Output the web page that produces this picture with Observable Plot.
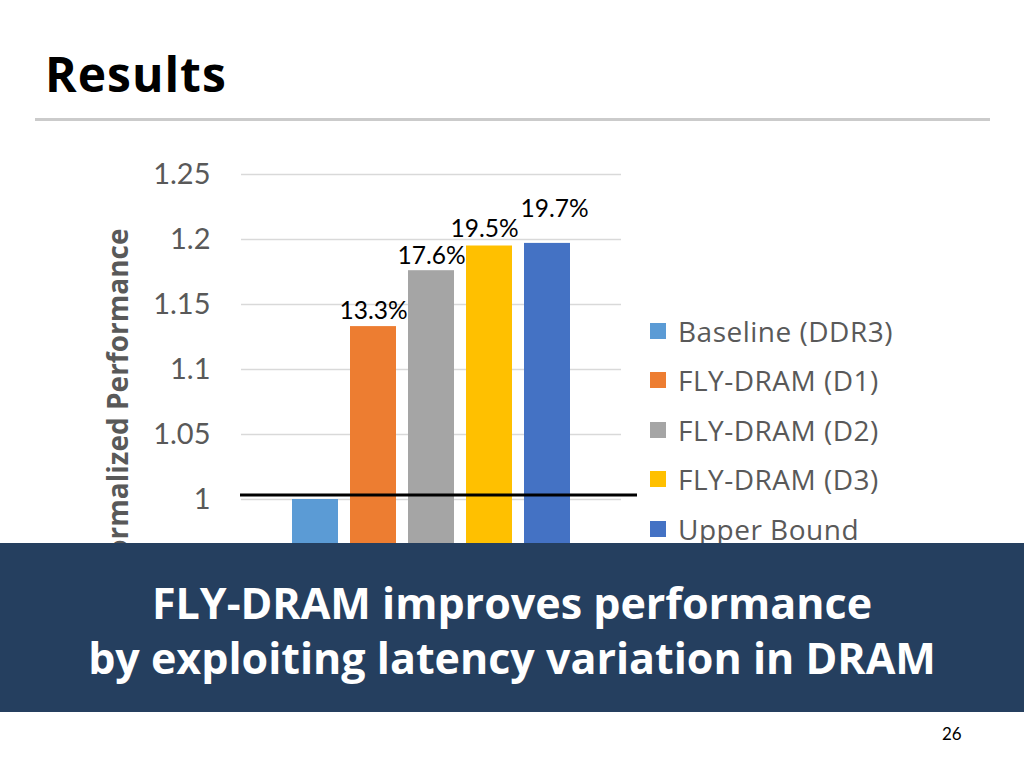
<!DOCTYPE html>
<html>
<head>
<meta charset="utf-8">
<script src="https://cdn.jsdelivr.net/npm/d3@7"></script>
<script src="https://cdn.jsdelivr.net/npm/@observablehq/plot@0.6"></script>
<style>
  html, body { margin: 0; padding: 0; background: #fff; }
  #slide { position: relative; width: 1024px; height: 768px; overflow: hidden; font-family: Lato, "Open Sans", sans-serif; }
  #title { position: absolute; left: 45px; top: 45px; margin: 0; font-family: "Open Sans", sans-serif; font-size: 48px; font-weight: 700; color: #000; line-height: 1.2; letter-spacing: 1px; }
  #rule { position: absolute; left: 35px; top: 118px; width: 955px; height: 3px; background: #cbcbcb; }
  #chart { position: absolute; left: 0; top: 154px; }
  #ytitle { position: absolute; left: -93px; top: 386px; width: 420px; height: 36px; line-height: 36px; text-align: center; transform: rotate(-90deg); transform-origin: 210px 18px; font-family: "Open Sans", sans-serif; font-size: 28px; font-weight: 700; color: #595959; white-space: nowrap; }
  #legend { position: absolute; left: 650px; top: 306px; }
  .lg { display: flex; align-items: center; height: 49.5px; font-family: "Open Sans", sans-serif; font-size: 28px; letter-spacing: 0.5px; color: #595959; }
  .sw { width: 16px; height: 16px; margin-right: 12px; }
  #banner { position: absolute; left: 0; top: 543px; width: 1024px; height: 169px; background: #253f5f; color: #fff; text-align: center; font-family: "Open Sans", sans-serif; font-weight: 700; font-size: 43px; line-height: 55px; padding-top: 32px; box-sizing: border-box; z-index: 5; }
  #page { position: absolute; left: 942px; top: 723px; font-size: 17px; color: #000; }
</style>
</head>
<body>
<div id="slide">
  <h1 id="title">Results</h1>
  <div id="rule"></div>
  <div id="chart"></div>
  <div id="ytitle"></div>
  <div id="legend"></div>
  <div id="banner">FLY-DRAM improves performance<br>by exploiting latency variation in DRAM</div>
  <div id="page">26</div>
</div>
<script>
const categories = ["Baseline (DDR3)", "FLY-DRAM (D1)", "FLY-DRAM (D2)", "FLY-DRAM (D3)", "Upper Bound"];
const values = [1.0, 1.133, 1.176, 1.195, 1.197];
const gainLabels = ["", "13.3%", "17.6%", "19.5%", "19.7%"];
const colors = ["#5b9bd5", "#ed7d31", "#a5a5a5", "#ffc000", "#4472c4"];
const yTicks = [1, 1.05, 1.1, 1.15, 1.2, 1.25];
const yTickLabels = ["1", "1.05", "1.1", "1.15", "1.2", "1.25"];
const yDomain = [0.9, 1.25];
const referenceLevel = 1.0035;
const yTitle = "Normalized Performance";

document.getElementById("ytitle").textContent = yTitle;

const data = categories.map((c, i) => ({cat: c, value: values[i], label: gainLabels[i], idx: i}));

const plot = Plot.plot({
  width: 660,
  height: 475,
  marginLeft: 241,
  marginRight: 39,
  marginTop: 20,
  marginBottom: 0,
  style: {fontFamily: "Lato, sans-serif", fontSize: "29px", color: "#595959", overflow: "visible"},
  x: {domain: categories, axis: null, paddingInner: 0.21, paddingOuter: 0.86},
  y: {domain: yDomain},
  color: {domain: categories, range: colors},
  marks: [
    Plot.gridY(yTicks, {stroke: "#d9d9d9", strokeOpacity: 1, strokeWidth: 1.3}),
    Plot.axisY(yTicks, {tickSize: 0, tickPadding: 31, tickFormat: d => yTickLabels[yTicks.indexOf(d)], label: null, fill: "#595959"}),
    Plot.barY(data, {x: "cat", y1: yDomain[0], y2: "value", fill: "cat"}),
    Plot.ruleY([referenceLevel], {stroke: "black", strokeWidth: 3, insetLeft: -1, insetRight: -16}),
    Plot.text(data.filter(d => d.idx === 1 || d.idx === 2), {x: "cat", y: "value", text: "label", dy: -15, fontSize: 24.5, fill: "#000"}),
    Plot.text(data.filter(d => d.idx === 3), {x: "cat", y: "value", text: "label", dy: -17, dx: -5, fontSize: 24.5, fill: "#000"}),
    Plot.text(data.filter(d => d.idx === 4), {x: "cat", y: "value", text: "label", dy: -34, dx: 7, fontSize: 24.5, fill: "#000"})
  ]
});
document.getElementById("chart").appendChild(plot);

const legend = document.getElementById("legend");
categories.forEach((c, i) => {
  const row = document.createElement("div");
  row.className = "lg";
  const sw = document.createElement("div");
  sw.className = "sw";
  sw.style.background = colors[i];
  const t = document.createElement("span");
  t.textContent = c;
  row.appendChild(sw);
  row.appendChild(t);
  legend.appendChild(row);
});
</script>
</body>
</html>
